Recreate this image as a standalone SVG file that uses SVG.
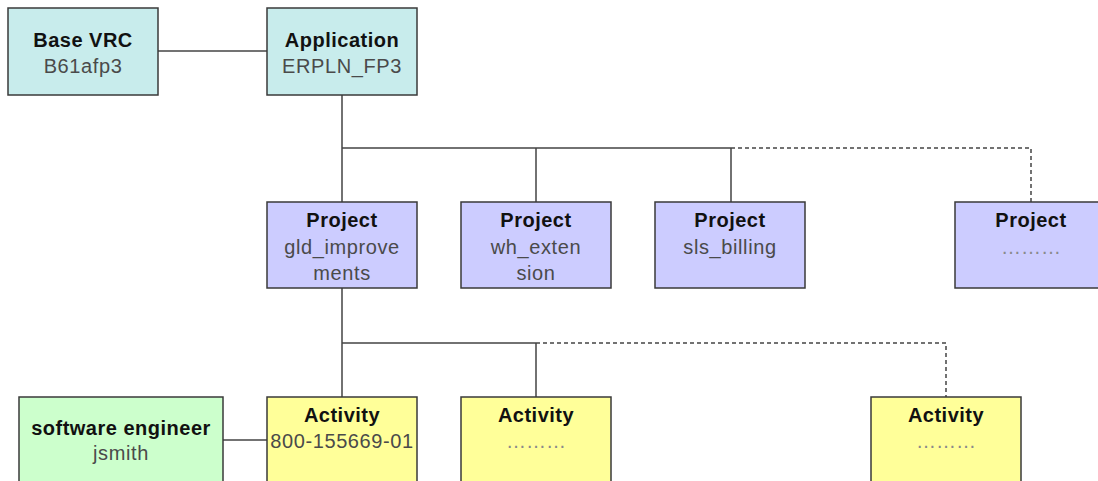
<svg xmlns="http://www.w3.org/2000/svg" width="1098" height="481" viewBox="0 0 1098 481">
<style>
.box{stroke:#3a3a3a;stroke-width:1.5}
.vrc{fill:#c8ecec}
.prj{fill:#ccccff}
.act{fill:#ffff99}
.eng{fill:#ccffcc}
.t{font-family:"Liberation Sans",Arial,sans-serif;font-size:20px;font-weight:bold;fill:#111;text-anchor:middle;letter-spacing:0.5px}
.s{font-family:"Liberation Sans",Arial,sans-serif;font-size:20px;fill:#4a4a4a;text-anchor:middle;letter-spacing:0.6px}
.d{font-family:"Liberation Sans",Arial,sans-serif;font-size:20px;fill:#8a8a8a;text-anchor:middle}
.ln{fill:none;stroke:#444;stroke-width:1.5}
.dl{fill:none;stroke:#444;stroke-width:1.5;stroke-dasharray:4 3}
</style>
<rect width="1098" height="481" fill="#fff"/>
<g id="connectors">
<line class="ln" x1="158" y1="51" x2="267" y2="51"/>
<path class="ln" d="M342 95V148H731M342 148V202M536 148V202M731 148V202"/>
<path class="dl" d="M731 148H1031V202"/>
<path class="ln" d="M342 288V343H536M342 343V397M536 343V397"/>
<path class="dl" d="M536 343H946V397"/>
<line class="ln" x1="223" y1="440" x2="267" y2="440"/>
</g>
<g id="base-vrc">
<rect class="box vrc" x="8" y="8" width="150" height="87"/>
<text class="t" x="83" y="47">Base VRC</text>
<text class="s" x="83" y="73">B61afp3</text>
</g>
<g id="application">
<rect class="box vrc" x="267" y="8" width="150" height="87"/>
<text class="t" x="342" y="47">Application</text>
<text class="s" x="342" y="73">ERPLN_FP3</text>
</g>
<g id="project-gld">
<rect class="box prj" x="267" y="202" width="150" height="86"/>
<text class="t" x="342" y="227">Project</text>
<text class="s" x="342" y="254">gld_improve</text>
<text class="s" x="342" y="280">ments</text>
</g>
<g id="project-wh">
<rect class="box prj" x="461" y="202" width="150" height="86"/>
<text class="t" x="536" y="227">Project</text>
<text class="s" x="536" y="254">wh_exten</text>
<text class="s" x="536" y="280">sion</text>
</g>
<g id="project-sls">
<rect class="box prj" x="655" y="202" width="150" height="86"/>
<text class="t" x="730" y="227">Project</text>
<text class="s" x="730" y="254">sls_billing</text>
</g>
<g id="project-more">
<rect class="box prj" x="955" y="202" width="150" height="86"/>
<text class="t" x="1031" y="227">Project</text>
<text class="d" x="1031" y="254">………</text>
</g>
<g id="engineer">
<rect class="box eng" x="19" y="397" width="204" height="95"/>
<text class="t" x="121" y="435">software engineer</text>
<text class="s" x="121" y="460">jsmith</text>
</g>
<g id="activity-1">
<rect class="box act" x="267" y="397" width="150" height="95"/>
<text class="t" x="342" y="422">Activity</text>
<text class="s" x="342" y="448">800-155669-01</text>
</g>
<g id="activity-2">
<rect class="box act" x="461" y="397" width="150" height="95"/>
<text class="t" x="536" y="422">Activity</text>
<text class="d" x="536" y="448">………</text>
</g>
<g id="activity-3">
<rect class="box act" x="871" y="397" width="150" height="95"/>
<text class="t" x="946" y="422">Activity</text>
<text class="d" x="946" y="448">………</text>
</g>
</svg>
